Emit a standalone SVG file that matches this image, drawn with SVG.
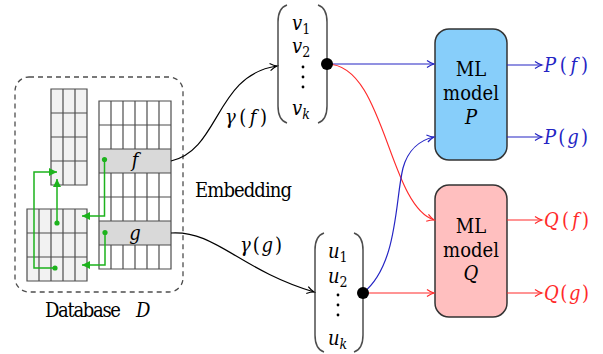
<svg xmlns="http://www.w3.org/2000/svg" width="603" height="354" viewBox="0 0 603 354">
<style>
text{font-family:"DejaVu Serif Condensed","DejaVu Serif","Liberation Serif",serif;font-stretch:condensed}
.t{font-size:20px;fill:#000}
.m{font-size:20px;font-style:italic}
.up{font-style:normal}
.sub{font-size:14px;font-style:normal}
.subi{font-size:14px;font-style:italic}
.grid{stroke:#4d4d4d;stroke-width:1.2;fill:none}
.gl{stroke:#1db31d;stroke-width:1.5;fill:none}
.blk{stroke:#000;stroke-width:1.2;fill:none}
.blu{stroke:#2424c4;stroke-width:1.2;fill:none}
.red{stroke:#ff2a2a;stroke-width:1.2;fill:none}
.par{stroke:#4d4d4d;stroke-width:1.5;fill:none}
</style>
<defs>
<marker id="ak" viewBox="-8 -5 10 10" refX="0" refY="0" markerWidth="10" markerHeight="10" markerUnits="userSpaceOnUse" orient="auto"><path d="M-7,-3.6 Q-3,-0.8 0,0 Q-3,0.8 -7,3.6" fill="none" stroke="#000" stroke-width="1.2"/></marker>
<marker id="ab" viewBox="-8 -5 10 10" refX="0" refY="0" markerWidth="10" markerHeight="10" markerUnits="userSpaceOnUse" orient="auto"><path d="M-7,-3.6 Q-3,-0.8 0,0 Q-3,0.8 -7,3.6" fill="none" stroke="#2424c4" stroke-width="1.2"/></marker>
<marker id="ar" viewBox="-8 -5 10 10" refX="0" refY="0" markerWidth="10" markerHeight="10" markerUnits="userSpaceOnUse" orient="auto"><path d="M-7,-3.6 Q-3,-0.8 0,0 Q-3,0.8 -7,3.6" fill="none" stroke="#ff2a2a" stroke-width="1.2"/></marker>
<marker id="ag" viewBox="-9 -5 10 10" refX="0" refY="0" markerWidth="10" markerHeight="10" markerUnits="userSpaceOnUse" orient="auto"><path d="M-8,-4 L0,0 L-8,4 z" fill="#1db31d"/></marker>
</defs>
<rect width="603" height="354" fill="#fff"/>

<g id="database">
<rect x="15" y="77" width="168" height="215" rx="14" fill="none" stroke="#4d4d4d" stroke-width="1.3" stroke-dasharray="5,4"/>
<text class="t" x="45" y="317" textLength="76">Database</text>
<text class="m" x="136" y="317">D</text>
</g>

<g id="tableA">
<rect x="51" y="89" width="36" height="96" fill="#f2f2f2"/>
<path class="grid" d="M51,89H87V185H51Z M63,89V185 M75,89V185 M51,113H87 M51,137H87 M51,161H87"/>
</g>

<g id="tableB">
<rect x="99" y="101" width="72" height="168" fill="#fff"/>
<rect x="99" y="149" width="72" height="24" fill="#d9d9d9"/>
<rect x="99" y="221" width="72" height="24" fill="#d9d9d9"/>
<path class="grid" d="M99,101H171V269H99Z M111,101V149 M123,101V149 M135,101V149 M147,101V149 M159,101V149 M111,173V221 M123,173V221 M135,173V221 M147,173V221 M159,173V221 M111,245V269 M123,245V269 M135,245V269 M147,245V269 M159,245V269 M99,125H171 M99,149H171 M99,173H171 M99,197H171 M99,221H171 M99,245H171"/>
<text class="m" x="135" y="167" text-anchor="middle">f</text>
<text class="m" x="135" y="240" text-anchor="middle">g</text>
</g>

<g id="tableC">
<rect x="27" y="209" width="60" height="72" fill="#f2f2f2"/>
<path class="grid" d="M27,209H87V281H27Z M39,209V281 M51,209V281 M63,209V281 M75,209V281 M27,233H87 M27,257H87"/>
</g>

<g id="links">
<path class="gl" d="M55,268H34V172H57" marker-end="url(#ag)"/>
<path class="gl" d="M57,223V179" marker-end="url(#ag)"/>
<path class="gl" d="M104.5,159.5V216H82" marker-end="url(#ag)"/>
<path class="gl" d="M105,232.5V265H82" marker-end="url(#ag)"/>
<g fill="#1db31d">
<circle cx="55" cy="268" r="2.6"/>
<circle cx="57" cy="223" r="2.6"/>
<circle cx="104.5" cy="159.5" r="2.6"/>
<circle cx="105" cy="232.5" r="2.6"/>
</g>
</g>

<g id="embedding-label">
<text class="t" x="195" y="197" textLength="97">Embedding</text>
</g>

<g id="vectorV">
<path class="par" d="M287,5 Q278,8 278,22 V106 Q278,120 287,123"/>
<path class="par" d="M318,5 Q327,8 327,22 V106 Q327,120 318,123"/>
<text class="m" x="292" y="30">v<tspan class="sub" dy="4">1</tspan></text>
<text class="m" x="292" y="53">v<tspan class="sub" dy="4">2</tspan></text>
<g fill="#000"><circle cx="303" cy="67" r="1.4"/><circle cx="303" cy="77" r="1.4"/><circle cx="303" cy="87" r="1.4"/></g>
<text class="m" x="292" y="115">v<tspan class="subi" dy="4">k</tspan></text>
</g>

<g id="vectorU">
<path class="par" d="M324,233 Q315,236 315,250 V335 Q315,349 324,352"/>
<path class="par" d="M354,233 Q363,236 363,250 V335 Q363,349 354,352"/>
<text class="m" x="328" y="258">u<tspan class="sub" dy="4">1</tspan></text>
<text class="m" x="328" y="283">u<tspan class="sub" dy="4">2</tspan></text>
<g fill="#000"><circle cx="338" cy="295" r="1.4"/><circle cx="338" cy="305" r="1.4"/><circle cx="338" cy="315" r="1.4"/></g>
<text class="m" x="328" y="345">u<tspan class="subi" dy="4">k</tspan></text>
</g>

<g id="modelP">
<rect x="435" y="29" width="72" height="131" rx="14" fill="#87cefa" stroke="#333" stroke-width="1.5"/>
<text class="t" x="471" y="76" text-anchor="middle">ML</text>
<text class="t" x="471" y="100" text-anchor="middle">model</text>
<text class="m" x="471" y="124" text-anchor="middle">P</text>
</g>

<g id="modelQ">
<rect x="435" y="185" width="72" height="132" rx="14" fill="#ffbfbf" stroke="#333" stroke-width="1.5"/>
<text class="t" x="471" y="233" text-anchor="middle">ML</text>
<text class="t" x="471" y="257" text-anchor="middle">model</text>
<text class="m" x="471" y="280" text-anchor="middle">Q</text>
</g>

<g id="outputs">
<text class="m" x="544" y="72" fill="#2424c4" textLength="44">P<tspan class="up">(</tspan>f<tspan class="up">)</tspan></text>
<text class="m" x="544" y="144" fill="#2424c4" textLength="44">P<tspan class="up">(</tspan>g<tspan class="up">)</tspan></text>
<text class="m" x="544" y="227" fill="#ff2a2a" textLength="45">Q<tspan class="up">(</tspan>f<tspan class="up">)</tspan></text>
<text class="m" x="544" y="300" fill="#ff2a2a" textLength="45">Q<tspan class="up">(</tspan>g<tspan class="up">)</tspan></text>
</g>

<g id="connectors">
<path class="blk" d="M171,161 C220,150 215,75 277,66" marker-end="url(#ak)"/>
<text class="m" x="225" y="124" textLength="42">γ<tspan class="up">(</tspan>f<tspan class="up">)</tspan></text>
<path class="blk" d="M171,233 C215,230 240,270 314,292" marker-end="url(#ak)"/>
<text class="m" x="240" y="252" textLength="42">γ<tspan class="up">(</tspan>g<tspan class="up">)</tspan></text>
<path class="blu" d="M327,64 H434" marker-end="url(#ab)"/>
<path class="red" d="M327,64 C385,64 388,205 434,220" marker-end="url(#ar)"/>
<path class="blu" d="M363,293 C398,265 395,200 403,168 C408,150 420,140 434,137" marker-end="url(#ab)"/>
<path class="red" d="M363,293 H434" marker-end="url(#ar)"/>
<path class="blu" d="M507,65 H542" marker-end="url(#ab)"/>
<path class="blu" d="M507,137 H542" marker-end="url(#ab)"/>
<path class="red" d="M507,220 H542" marker-end="url(#ar)"/>
<path class="red" d="M507,293 H542" marker-end="url(#ar)"/>
<circle cx="327" cy="64" r="6" fill="#000"/>
<circle cx="363" cy="293" r="6" fill="#000"/>
</g>
</svg>
